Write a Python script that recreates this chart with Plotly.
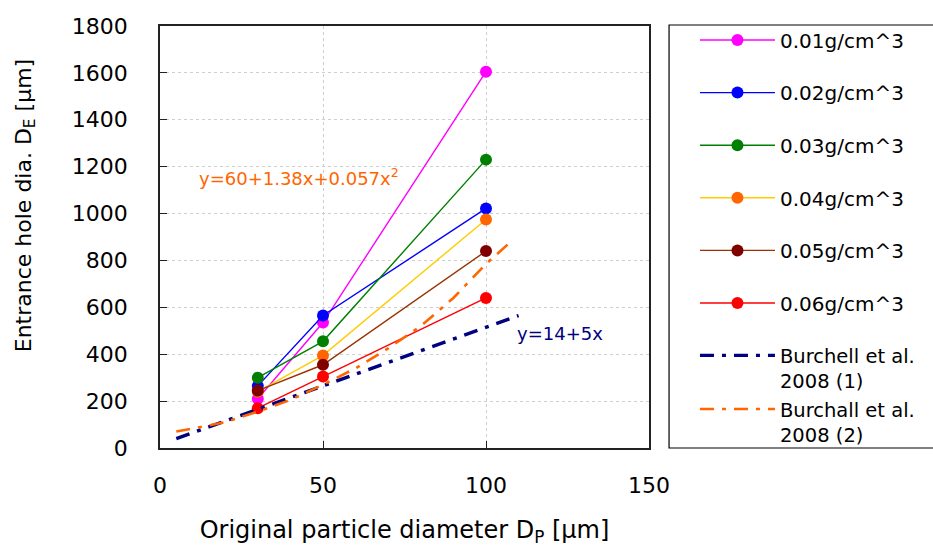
import plotly.graph_objects as go

# ---- data ----
particle_d = [30, 50, 100]
series_names = ["0.01g/cm^3", "0.02g/cm^3", "0.03g/cm^3", "0.04g/cm^3", "0.05g/cm^3", "0.06g/cm^3"]
d_001 = [210, 535, 1605]
d_002 = [265, 565, 1022]
d_003 = [300, 455, 1230]
d_004 = [240, 395, 975]
d_005 = [245, 355, 840]
d_006 = [170, 305, 640]

burchell1_x = [5, 30, 50, 75, 100, 110]
burchell1_y = [40, 165, 265, 390, 515, 565]
burchell2_x = [5, 20, 30, 40, 50, 60, 70, 80, 90, 100, 108]
burchell2_y = [70, 110, 155, 205, 270, 340, 425, 520, 640, 785, 885]

x_ticks = [0, 50, 100, 150]
y_ticks = [0, 200, 400, 600, 800, 1000, 1200, 1400, 1600, 1800]

# ---- styles ----
line_colors = ["#FF00FF", "#0000FF", "#008000", "#FFCC00", "#993300", "#FF0000"]
marker_colors = ["#FF00FF", "#0000FF", "#008000", "#FF6600", "#800000", "#FF0000"]
FONT = "DejaVu Sans"

fig = go.Figure()
all_y = [d_001, d_002, d_003, d_004, d_005, d_006]
for i, (name, ys) in enumerate(zip(series_names, all_y)):
    fig.add_trace(go.Scatter(
        x=particle_d, y=ys, name=name, mode="lines+markers",
        line=dict(color=line_colors[i], width=1.4),
        marker=dict(color=marker_colors[i], size=12),
        legendgroup=f"g{i}", legend="legend",
    ))

fig.add_trace(go.Scatter(
    x=burchell1_x, y=burchell1_y, name="Burchell et al.<br>2008 (1)", mode="lines",
    line=dict(color="#000080", width=3.4, dash="14px,8px,4px,8px"),
    legendgroup="g6", legend="legend2",
))
fig.add_trace(go.Scatter(
    x=burchell2_x, y=burchell2_y, name="Burchall et al.<br>2008 (2)", mode="lines",
    line=dict(color="#FF6600", width=2.6, dash="14px,8px,4px,8px"),
    legendgroup="g7", legend="legend2",
))

fig.add_annotation(x=42.6, y=1156, text="y=60+1.38x+0.057x<sup>2</sup>", showarrow=False,
                   font=dict(family=FONT, size=18, color="#FF6600"), xanchor="center", yanchor="middle")
fig.add_annotation(x=122.7, y=490, text="y=14+5x", showarrow=False,
                   font=dict(family=FONT, size=18, color="#000080"), xanchor="center", yanchor="middle")

# y-axis title (placed as in the reference, above the axis centre)
fig.add_annotation(xref="paper", yref="paper", x=-0.276, y=0.573, textangle=-90,
                   text="Entrance hole dia. D<sub>E</sub> [μm]", showarrow=False,
                   font=dict(family=FONT, size=22, color="black"), xanchor="center", yanchor="middle")

# legend box
fig.add_shape(type="rect", xref="paper", yref="paper", x0=1.041, x1=1.62, y0=0.0, y1=1.0024,
              line=dict(color="black", width=1.2), fillcolor="rgba(0,0,0,0)")

axis_common = dict(
    showline=True, linecolor="#222222", linewidth=1.5, mirror=True,
    ticks="inside", ticklen=7, tickcolor="#222222", tickwidth=1.2,
    showgrid=True, gridcolor="#CFCFCF", gridwidth=1, griddash="dot", zeroline=False,
    tickfont=dict(family=FONT, size=22, color="black"),
)

legend_common = dict(xanchor="left", yanchor="top", itemwidth=75, valign="top",
                     bgcolor="rgba(0,0,0,0)", borderwidth=0, maxheight=700)

fig.update_layout(
    width=933, height=547,
    margin=dict(l=160, r=284, t=26, b=99, autoexpand=False),
    plot_bgcolor="white", paper_bgcolor="white",
    font=dict(family=FONT, color="black"),
    xaxis=dict(range=[0, 150], tickvals=x_ticks, ticklabelstandoff=17,
               title=dict(text="Original particle diameter D<sub>P</sub> [μm]", font=dict(family=FONT, size=24), standoff=25),
               **axis_common),
    yaxis=dict(range=[0, 1800], tickvals=y_ticks, ticklabelstandoff=26,
               **axis_common),
    legend=dict(x=1.094, y=1.013, font=dict(family=FONT, size=20, color="black"),
                tracegroupgap=23.6, **legend_common),
    legend2=dict(x=1.094, y=0.265, font=dict(family=FONT, size=19.5, color="black"),
                 tracegroupgap=0, **legend_common),
    showlegend=True,
)

fig.write_html("out.html", config={"displayModeBar": False},
               post_script="document.body.style.margin='0px';")
